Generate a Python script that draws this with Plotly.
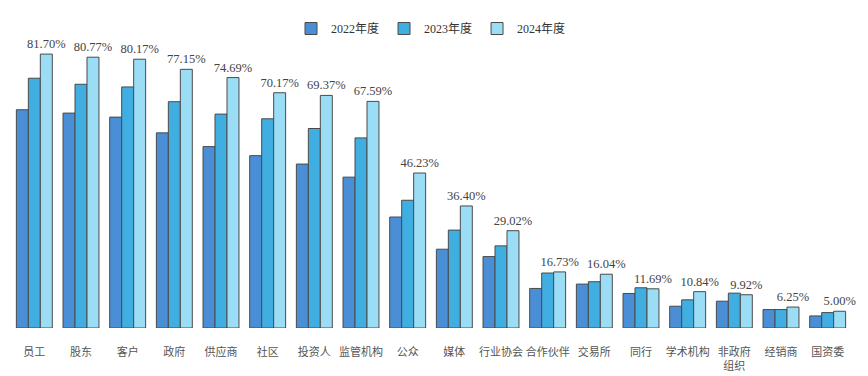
import plotly.graph_objects as go

categories = ["员工", "股东", "客户", "政府", "供应商", "社区", "投资人", "监管机构", "公众",
              "媒体", "行业协会", "合作伙伴", "交易所", "同行", "学术机构", "非政府<br>组织", "经销商", "国资委"]
v2022 = [65.1, 64.1, 62.9, 58.2, 54.1, 51.4, 48.9, 45.0, 33.1,
         23.5, 21.3, 11.8, 13.1, 10.3, 6.5, 8.0, 5.5, 3.6]
v2023 = [74.5, 72.7, 71.9, 67.5, 63.8, 62.4, 59.5, 56.7, 38.1,
         29.2, 24.5, 16.4, 13.8, 12.0, 8.4, 10.4, 5.5, 4.6]
v2024 = [81.70, 80.77, 80.17, 77.15, 74.69, 70.17, 69.37, 67.59, 46.23,
         36.40, 29.02, 16.73, 16.04, 11.69, 10.84, 9.92, 6.25, 5.00]
series_names = ["2022年度", "2023年度", "2024年度"]
colors = ["#4A8FD6", "#40AEE0", "#9CDDF6"]

FONT = "Liberation Serif, DejaVu Serif, Noto Sans CJK SC, serif"

fig = go.Figure()
for name, vals, col in zip(series_names, [v2022, v2023, v2024], colors):
    kw = {}
    if name == "2024年度":
        kw = dict(text=[f"{v:.2f}%" for v in vals], textposition="outside",
                  constraintext="none",
                  textfont=dict(family=FONT, size=12.5, color="#444444"), cliponaxis=False)
    fig.add_trace(go.Bar(x=categories, y=vals, name=name,
                         marker=dict(color=col, line=dict(color="#4a4a4a", width=1)), **kw))

fig.update_layout(
    width=868, height=376,
    margin=dict(l=3, r=25, t=32, b=56, autoexpand=False),
    paper_bgcolor="white", plot_bgcolor="white",
    barmode="group", bargap=0.23, bargroupgap=0,
    font=dict(family=FONT, size=12, color="#555555"),
    legend=dict(orientation="h", x=0.5, xanchor="center", y=0.984, yanchor="top",
                yref="container", font=dict(family=FONT, size=12, color="#333333"),
                itemwidth=30, tracegroupgap=0),
    showlegend=True,
)
fig.update_xaxes(showgrid=False, showline=False, zeroline=False, ticks="",
                 ticklabelstandoff=16, tickfont=dict(family=FONT, size=11, color="#555555"))
fig.update_yaxes(range=[0, 85.9], visible=False, showgrid=False)

fig.write_html("out.html")
